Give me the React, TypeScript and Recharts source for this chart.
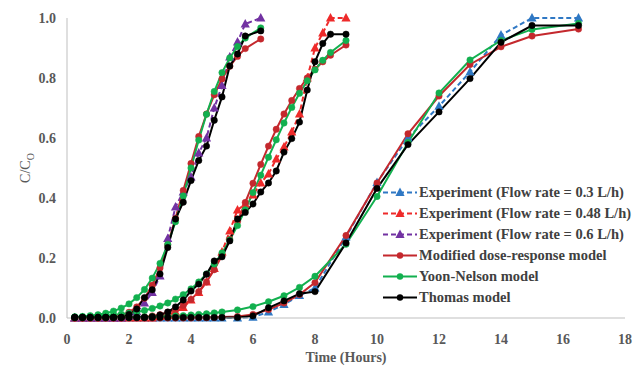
import React from 'react';
import { LineChart, Line, XAxis, YAxis, Legend } from 'recharts';

// Sampling times (h) for each flow rate
const timesA = [0.25, 0.5, 0.75, 1, 1.25, 1.5, 1.75, 2, 2.25, 2.5, 2.75, 3, 3.25, 3.5, 3.75, 4, 4.25, 4.5, 4.75, 5, 5.25, 5.5, 5.75, 6.25];
const timesB = [0.25, 0.5, 0.75, 1, 1.25, 1.5, 1.75, 2, 2.25, 2.5, 2.75, 3, 3.25, 3.5, 3.75, 4, 4.25, 4.5, 4.75, 5, 5.25, 5.5, 5.75, 6, 6.25, 6.5, 6.75, 7, 7.25, 7.5, 7.75, 8, 8.25, 8.5, 9];
const timesC = [0.25, 0.5, 0.75, 1, 1.25, 1.5, 1.75, 2, 2.25, 2.5, 2.75, 3, 3.25, 3.5, 3.75, 4, 4.25, 4.5, 4.75, 5, 5.5, 6, 6.5, 7, 7.5, 8, 9, 10, 11, 12, 13, 14, 15, 16.5];

// Flow rate 0.6 L/h
const expA = [0, 0, 0, 0, 0, 0, 0, 0.005, 0.02, 0.05, 0.085, 0.14, 0.265, 0.37, 0.42, 0.47, 0.55, 0.6, 0.7, 0.775, 0.87, 0.92, 0.98, 1.0];
const doseA = [0, 0, 0, 0, 0.001, 0.004, 0.009, 0.019, 0.037, 0.066, 0.109, 0.167, 0.244, 0.332, 0.425, 0.515, 0.605, 0.68, 0.744, 0.797, 0.839, 0.872, 0.898, 0.93];
const yoonA = [0.004, 0.005, 0.008, 0.011, 0.016, 0.023, 0.033, 0.047, 0.068, 0.095, 0.133, 0.182, 0.245, 0.321, 0.407, 0.5, 0.593, 0.679, 0.755, 0.818, 0.867, 0.905, 0.933, 0.967];
const thomasA = [0.002, 0.002, 0.002, 0.002, 0.002, 0.002, 0.002, 0.012, 0.03, 0.068, 0.094, 0.147, 0.235, 0.33, 0.386, 0.458, 0.525, 0.573, 0.659, 0.737, 0.84, 0.88, 0.94, 0.957];

// Flow rate 0.48 L/h
const expB = [0, 0, 0, 0, 0, 0, 0, 0, 0, 0, 0, 0.005, 0.01, 0.02, 0.035, 0.06, 0.085, 0.12, 0.165, 0.22, 0.29, 0.36, 0.38, 0.41, 0.45, 0.48, 0.53, 0.57, 0.62, 0.68, 0.8, 0.9, 0.95, 1.0, 1.0];
const doseB = [0, 0, 0, 0, 0, 0, 0, 0.001, 0.002, 0.004, 0.007, 0.011, 0.018, 0.028, 0.042, 0.062, 0.088, 0.12, 0.161, 0.208, 0.263, 0.322, 0.385, 0.449, 0.512, 0.573, 0.629, 0.68, 0.725, 0.765, 0.8, 0.829, 0.854, 0.876, 0.91];
const yoonB = [0.003, 0.004, 0.005, 0.006, 0.008, 0.01, 0.013, 0.016, 0.02, 0.025, 0.032, 0.04, 0.05, 0.063, 0.078, 0.097, 0.12, 0.147, 0.18, 0.217, 0.26, 0.308, 0.361, 0.418, 0.476, 0.536, 0.594, 0.65, 0.702, 0.749, 0.791, 0.827, 0.859, 0.885, 0.925];
const thomasB = [0.002, 0.002, 0.002, 0.002, 0.002, 0.002, 0.002, 0.002, 0.002, 0.002, 0.004, 0.01, 0.02, 0.037, 0.06, 0.09, 0.113, 0.146, 0.19, 0.204, 0.257, 0.33, 0.352, 0.38, 0.42, 0.45, 0.49, 0.553, 0.598, 0.653, 0.76, 0.854, 0.915, 0.946, 0.946];

// Flow rate 0.3 L/h
const expC = [0, 0, 0, 0, 0, 0, 0, 0, 0, 0, 0, 0, 0, 0, 0, 0, 0, 0, 0, 0, 0, 0.003, 0.02, 0.045, 0.075, 0.1, 0.27, 0.452, 0.6, 0.706, 0.82, 0.943, 1.0, 1.0];
const doseC = [0, 0, 0, 0, 0, 0, 0, 0, 0, 0, 0, 0, 0, 0, 0, 0, 0.001, 0.001, 0.002, 0.003, 0.005, 0.012, 0.028, 0.05, 0.078, 0.118, 0.275, 0.45, 0.614, 0.74, 0.845, 0.904, 0.94, 0.963];
const yoonC = [0.001, 0.001, 0.001, 0.001, 0.001, 0.002, 0.002, 0.002, 0.003, 0.003, 0.004, 0.005, 0.006, 0.007, 0.008, 0.01, 0.012, 0.014, 0.017, 0.02, 0.027, 0.038, 0.054, 0.074, 0.102, 0.139, 0.246, 0.405, 0.585, 0.75, 0.86, 0.925, 0.962, 0.982];
const thomasC = [0.002, 0.002, 0.002, 0.002, 0.002, 0.002, 0.002, 0.002, 0.002, 0.002, 0.002, 0.002, 0.002, 0.002, 0.002, 0.002, 0.002, 0.002, 0.002, 0.002, 0.002, 0.007, 0.034, 0.057, 0.081, 0.088, 0.25, 0.432, 0.578, 0.687, 0.798, 0.919, 0.975, 0.975];

const xTicks = [0, 2, 4, 6, 8, 10, 12, 14, 16, 18];
const yTicks = [0, 0.2, 0.4, 0.6, 0.8, 1.0];

const legendLabels = [
  'Experiment (Flow rate = 0.3 L/h)',
  'Experiment (Flow rate = 0.48 L/h)',
  'Experiment (Flow rate = 0.6 L/h)',
  'Modified dose-response model',
  'Yoon-Nelson model',
  'Thomas model',
];

const BLUE = '#2F78C4';
const RED_EXP = '#EE2A2A';
const PURPLE = '#7232A2';
const RED_MODEL = '#C4282D';
const GREEN = '#12B04F';
const BLACK = '#000000';

const FONT = '"Liberation Serif", "Times New Roman", serif';
const AXIS_GREY = '#595959';

const toPoints = (times: number[], values: number[]) =>
  times.map((t, i) => ({ t, v: values[i] }));

type SeriesDef = {
  id: string;
  times: number[];
  values: number[];
  color: string;
  dashed: boolean;
  marker: 'tri' | 'dot';
};

// Drawing order: experiments first, models on top, Thomas last.
const series: SeriesDef[] = [
  { id: 'expC', times: timesC, values: expC, color: BLUE, dashed: true, marker: 'tri' },
  { id: 'expB', times: timesB, values: expB, color: RED_EXP, dashed: true, marker: 'tri' },
  { id: 'expA', times: timesA, values: expA, color: PURPLE, dashed: true, marker: 'tri' },
  { id: 'doseA', times: timesA, values: doseA, color: RED_MODEL, dashed: false, marker: 'dot' },
  { id: 'doseB', times: timesB, values: doseB, color: RED_MODEL, dashed: false, marker: 'dot' },
  { id: 'doseC', times: timesC, values: doseC, color: RED_MODEL, dashed: false, marker: 'dot' },
  { id: 'yoonA', times: timesA, values: yoonA, color: GREEN, dashed: false, marker: 'dot' },
  { id: 'yoonB', times: timesB, values: yoonB, color: GREEN, dashed: false, marker: 'dot' },
  { id: 'yoonC', times: timesC, values: yoonC, color: GREEN, dashed: false, marker: 'dot' },
  { id: 'thomasA', times: timesA, values: thomasA, color: BLACK, dashed: false, marker: 'dot' },
  { id: 'thomasB', times: timesB, values: thomasB, color: BLACK, dashed: false, marker: 'dot' },
  { id: 'thomasC', times: timesC, values: thomasC, color: BLACK, dashed: false, marker: 'dot' },
];

const legendStyles = [
  { color: BLUE, dashed: true, marker: 'tri' },
  { color: RED_EXP, dashed: true, marker: 'tri' },
  { color: PURPLE, dashed: true, marker: 'tri' },
  { color: RED_MODEL, dashed: false, marker: 'dot' },
  { color: GREEN, dashed: false, marker: 'dot' },
  { color: BLACK, dashed: false, marker: 'dot' },
];

const trianglePoints = (cx: number, cy: number) =>
  `${cx},${cy - 5} ${cx - 4.6},${cy + 3.6} ${cx + 4.6},${cy + 3.6}`;

const makeTriangle = (color: string, id: string) => (props: any) => {
  const { cx, cy, index } = props;
  if (cx == null || cy == null) return <g key={`${id}-${index}`} />;
  return <polygon key={`${id}-${index}`} points={trianglePoints(cx, cy)} fill={color} />;
};

const LegendBox = () => (
  <div style={{ fontFamily: FONT, fontWeight: 'bold', fontSize: 14.5, color: '#404040' }}>
    {legendLabels.map((label, i) => {
      const s = legendStyles[i];
      return (
        <div key={label} style={{ display: 'flex', alignItems: 'center', height: 21 }}>
          <svg width={38} height={21} style={{ flex: 'none' }}>
            <line
              x1={2}
              x2={36}
              y1={10.5}
              y2={10.5}
              stroke={s.color}
              strokeWidth={2}
              strokeDasharray={s.dashed ? '5 3' : undefined}
            />
            {s.marker === 'tri' ? (
              <polygon points={trianglePoints(19, 10.5)} fill={s.color} />
            ) : (
              <circle cx={19} cy={10.5} r={3.2} fill={s.color} />
            )}
          </svg>
          <span style={{ whiteSpace: 'nowrap', lineHeight: '21px' }}>{label}</span>
        </div>
      );
    })}
  </div>
);

const YTitle = () => (
  <text
    x={0}
    y={0}
    transform="translate(30, 168) rotate(-90)"
    textAnchor="middle"
    fontFamily={FONT}
    fontSize={14}
    fill={AXIS_GREY}
  >
    C/C
    <tspan fontSize={10} dy={4}>O</tspan>
  </text>
);

const XTitle = () => (
  <text
    x={346}
    y={362}
    textAnchor="middle"
    fontFamily={FONT}
    fontWeight="bold"
    fontSize={14}
    fill={AXIS_GREY}
  >
    Time (Hours)
  </text>
);

const tickStyle = { fill: AXIS_GREY, fontSize: 14, fontWeight: 'bold', fontFamily: FONT };

export default function App() {
  return (
    <div style={{ position: 'absolute', left: 0, top: 0, width: 641, height: 367, background: '#fff' }}>
      <LineChart width={641} height={367} margin={{ top: 18, right: 16, bottom: 19, left: 0 }}>
        <XAxis
          type="number"
          dataKey="t"
          domain={[0, 18]}
          ticks={xTicks}
          interval={0}
          tickLine={false}
          tickMargin={10}
          height={30}
          stroke="#BFBFBF"
          tick={tickStyle}
          label={<XTitle />}
        />
        <YAxis
          type="number"
          dataKey="v"
          domain={[0, 1]}
          ticks={yTicks}
          interval={0}
          tickLine={false}
          tickMargin={5}
          width={67}
          stroke="#BFBFBF"
          tick={tickStyle}
          tickFormatter={(v: number) => v.toFixed(1)}
          label={<YTitle />}
        />
        <Legend
          layout="vertical"
          align="center"
          verticalAlign="middle"
          content={<LegendBox />}
          wrapperStyle={{ position: 'absolute', left: 381, top: 181.5, width: 258, height: 126 }}
        />
        {series.map((s) => (
          <Line
            key={s.id}
            data={toPoints(s.times, s.values)}
            dataKey="v"
            name={s.id}
            type="linear"
            stroke={s.color}
            strokeWidth={2}
            strokeDasharray={s.dashed ? '5 3' : undefined}
            dot={
              s.marker === 'tri'
                ? makeTriangle(s.color, s.id)
                : { r: 3.2, fill: s.color, stroke: s.color, strokeWidth: 0.5 }
            }
            activeDot={false}
            legendType="none"
            isAnimationActive={false}
          />
        ))}
      </LineChart>
    </div>
  );
}
